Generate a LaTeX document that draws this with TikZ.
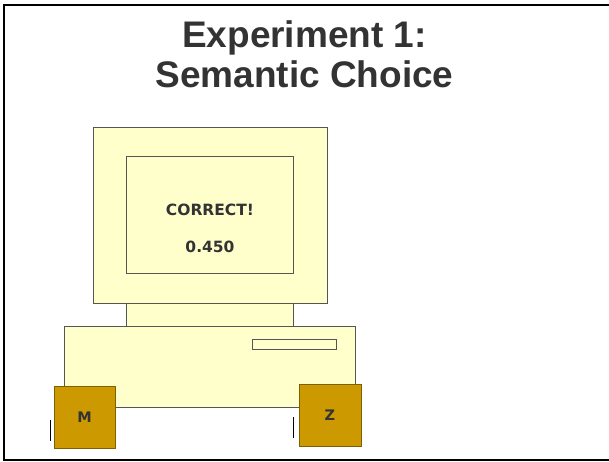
\documentclass[tikz,border=0pt]{standalone}
\usepackage{fontspec}
\setmainfont{Liberation Sans}
\newfontfamily\screenfont{DejaVu Sans}
\definecolor{cream}{HTML}{FFFFCC}
\definecolor{gold}{HTML}{CC9900}
\definecolor{goldedge}{HTML}{7F6000}
\definecolor{ink}{HTML}{333333}
\definecolor{edge}{HTML}{555555}
\begin{document}
\begin{tikzpicture}[x=1pt, y=-1pt,
    every node/.style={inner sep=0pt, outer sep=0pt},
    part/.style={draw=edge, fill=cream, line width=1pt, rectangle},
    key/.style={draw=goldedge, fill=gold, line width=1pt, rectangle, minimum width=61pt, minimum height=62pt,
      text=ink, font=\screenfont\bfseries\fontsize{14.5}{14.5}\selectfont}]
    \useasboundingbox (0,0) rectangle (609,461);
    \draw[line width=1.5pt] (700,5) -- (4,5) -- (4,460) -- (700,460);

    \node[anchor=base, text=ink, font=\bfseries\fontsize{37}{40}\selectfont] (title1) at (304.5,47) {Experiment 1:};
    \node[anchor=base, text=ink, font=\bfseries\fontsize{37}{40}\selectfont] (title2) at (304.5,87) {Semantic Choice};

    \node[part, minimum width=234pt, minimum height=176pt] (monitor) at (210,215) {};
    \node[part, minimum width=167pt, minimum height=117pt] (screen) at (209.5,214.5) {};
    \node[part, minimum width=167pt, minimum height=23pt] (neck) at (209.5,314.5) {};
    \node[part, minimum width=291pt, minimum height=81pt] (base) at (209.5,366.5) {};
    \node[part, minimum width=84pt, minimum height=10pt] (slot) at (294,344) {};

    \node[text=ink, font=\screenfont\bfseries\fontsize{15.5}{15.5}\selectfont] (msg) at (210,210) {CORRECT!};
    \node[text=ink, font=\screenfont\bfseries\fontsize{15.5}{15.5}\selectfont] (rt) at (210,247) {0.450};

    \node[key] (keyM) at (84.5,417) {M};
    \node[key, minimum width=62pt] (keyZ) at (330,415) {Z};

    \coordinate (tickMa) at (50,420);
    \coordinate (tickMb) at (50,441);
    \coordinate (tickZa) at (293,417);
    \coordinate (tickZb) at (293,438);
    \draw[line width=1pt] (tickMa) -- (tickMb);
    \draw[line width=1pt] (tickZa) -- (tickZb);
  \end{tikzpicture}
\end{document}
